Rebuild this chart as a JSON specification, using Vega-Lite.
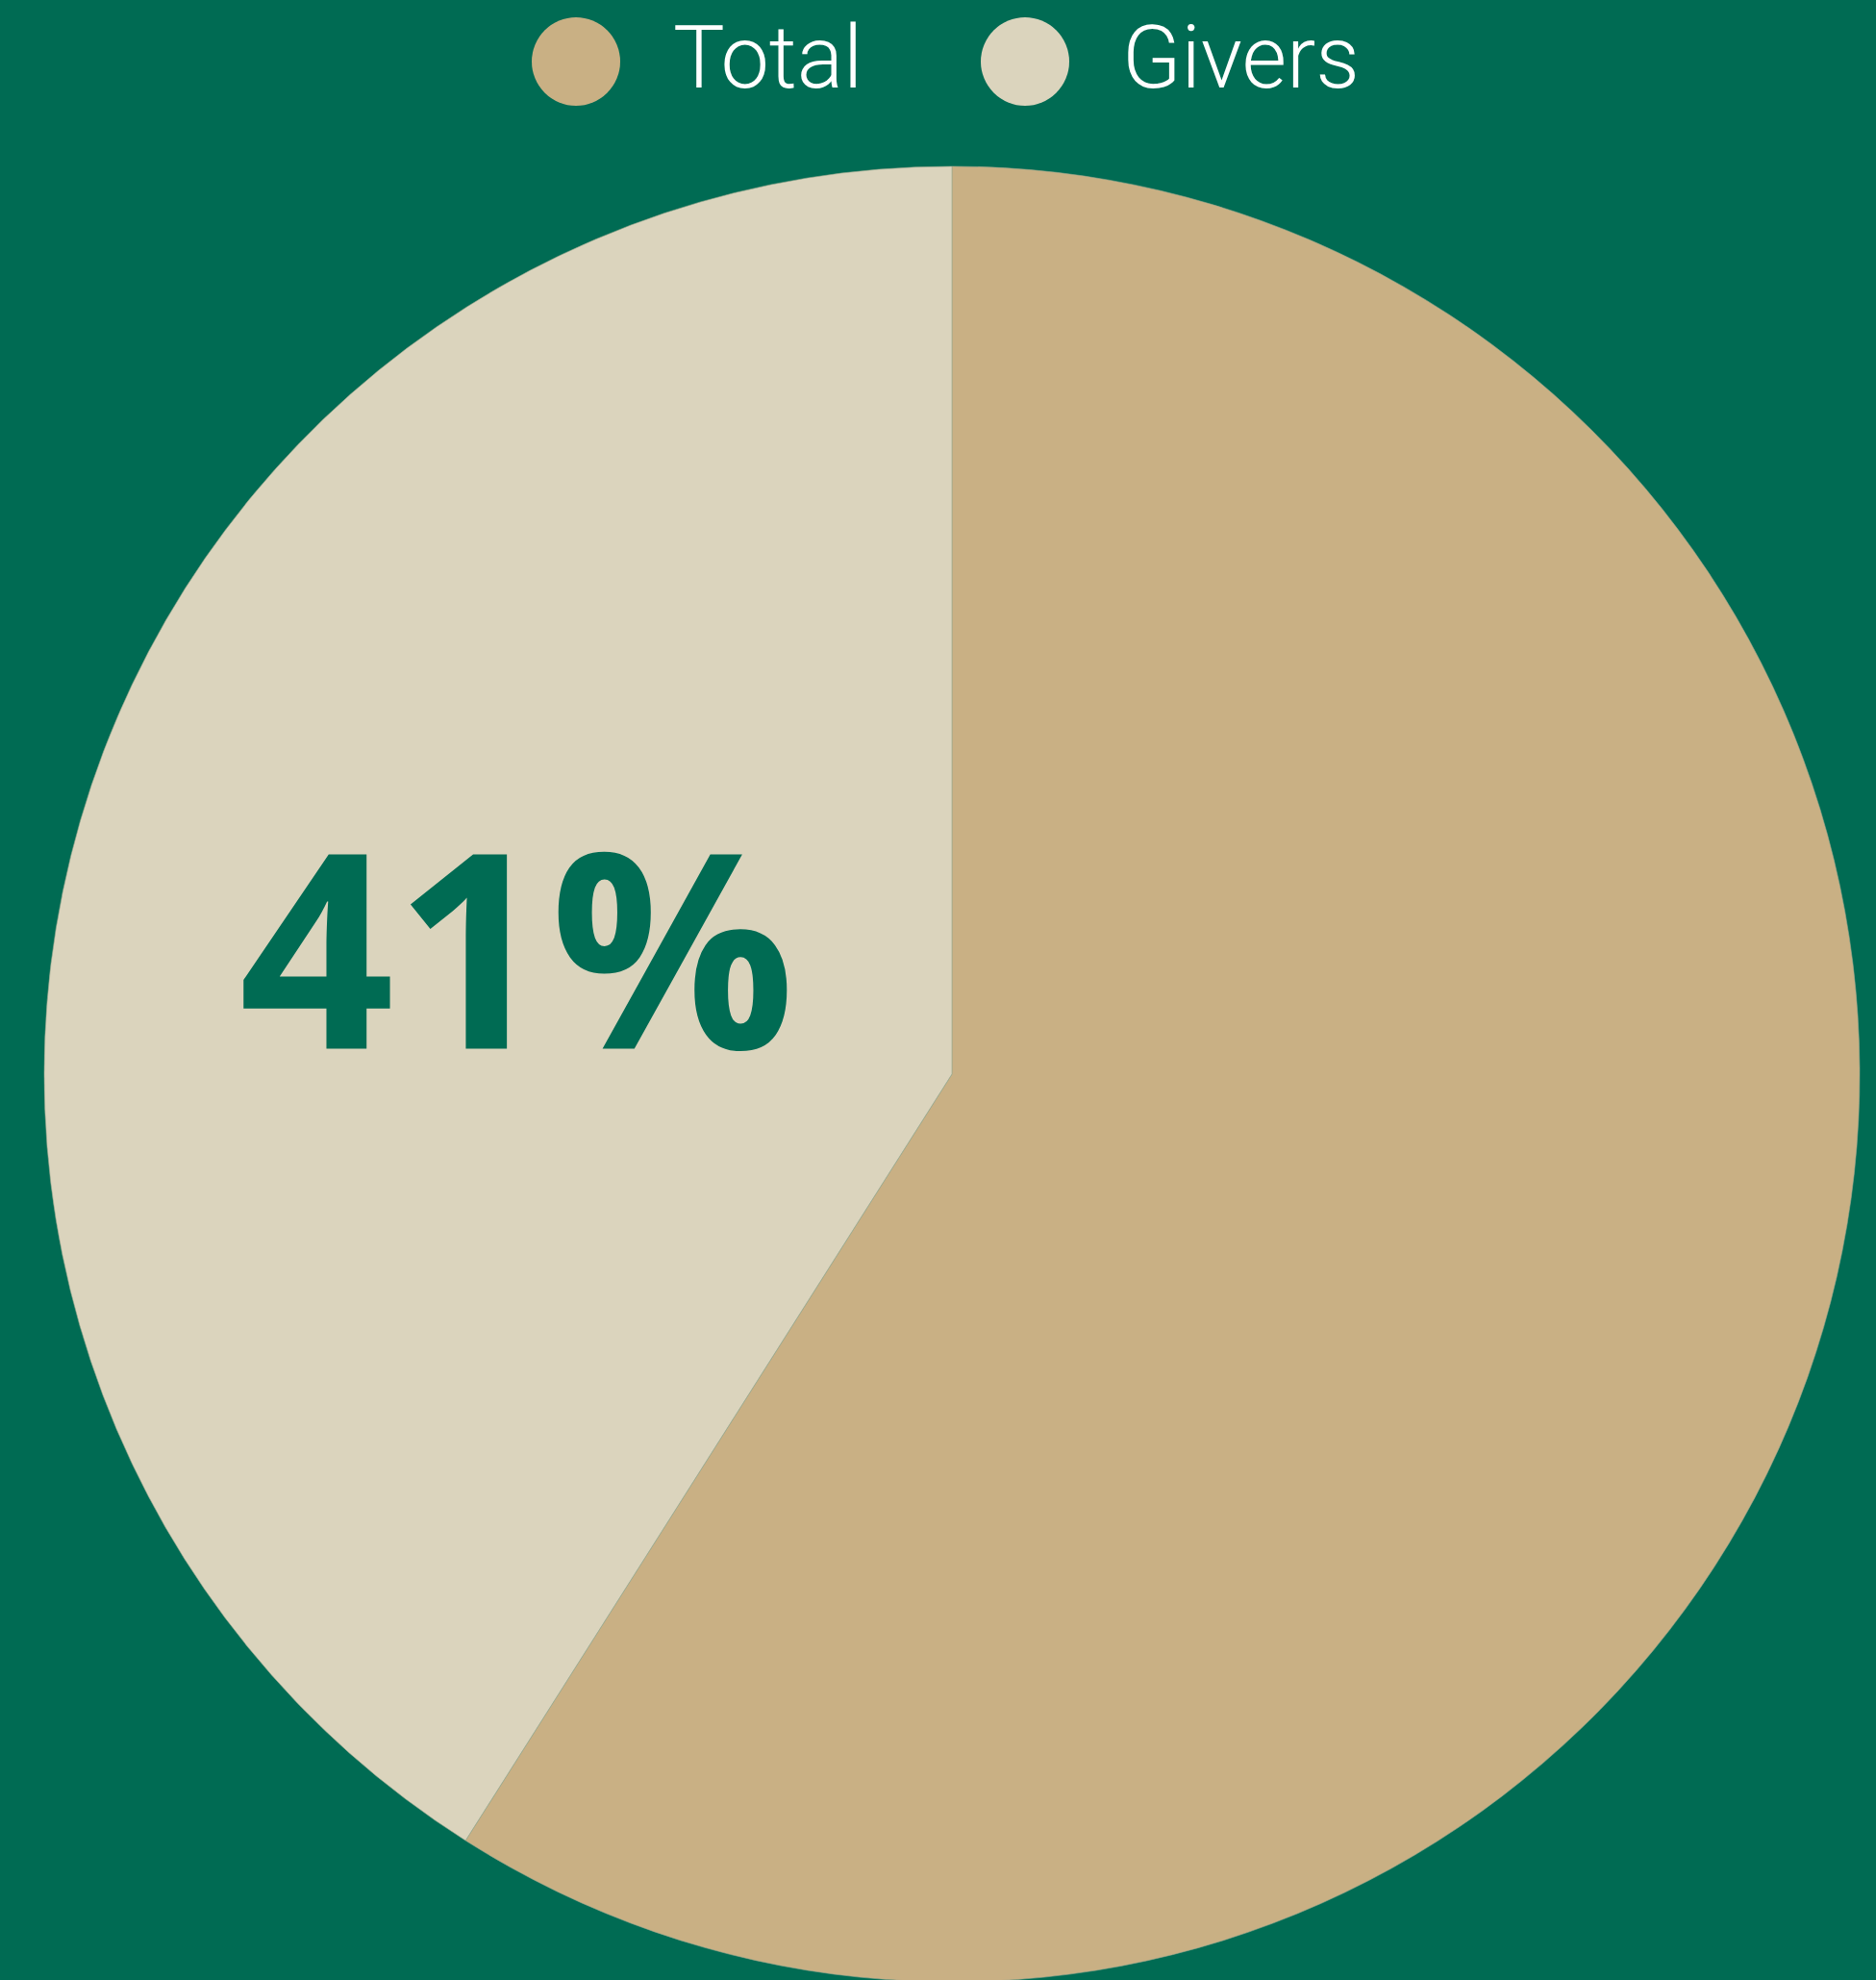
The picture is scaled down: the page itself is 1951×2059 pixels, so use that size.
{
  "$schema": "https://vega.github.io/schema/vega-lite/v6.json",
  "width": 1980,
  "height": 2234,
  "autosize": {"type": "none"},
  "padding": 0,
  "background": "#006B53",
  "data": {
    "values": [
      {"category": "Total", "value": 59, "ord": 1, "label": ""},
      {"category": "Givers", "value": 41, "ord": 2, "label": "41%"}
    ]
  },
  "encoding": {
    "theta": {"field": "value", "type": "quantitative", "stack": true},
    "order": {"field": "ord", "type": "quantitative"}
  },
  "layer": [
    {
      "mark": {"type": "arc", "outerRadius": 944, "stroke": "#9BA88E", "strokeWidth": 0.6},
      "encoding": {
        "color": {
          "field": "category",
          "type": "nominal",
          "scale": {"domain": ["Total", "Givers"], "range": ["#C9B084", "#DBD4BD"]},
          "legend": {
            "title": null,
            "orient": "none",
            "legendX": 553,
            "legendY": 18,
            "direction": "horizontal",
            "symbolType": "circle",
            "symbolSize": 8464,
            "symbolStrokeWidth": 0,
            "symbolOpacity": 1,
            "labelFont": "Roboto",
            "labelFontWeight": 300,
            "labelFontSize": 90,
            "labelColor": "#FFFFFF",
            "labelOffset": 55,
            "labelLimit": 1000,
            "columnPadding": 122
          }
        }
      }
    },
    {
      "mark": {
        "type": "text",
        "radius": 471,
        "font": "Open Sans",
        "fontWeight": 700,
        "fontSize": 283,
        "color": "#006B53",
        "align": "center",
        "baseline": "middle",
        "dy": 20
      },
      "encoding": {
        "text": {"field": "label", "type": "nominal"}
      }
    }
  ],
  "config": {"view": {"stroke": null}}
}
